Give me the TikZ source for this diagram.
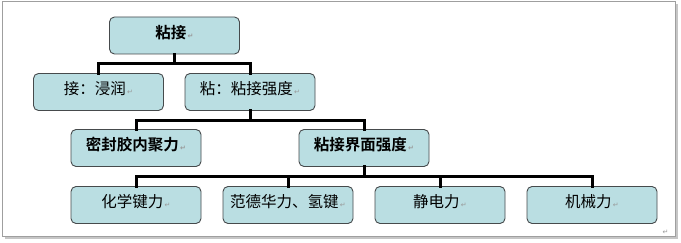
\documentclass[tikz,border=0pt]{standalone}
\usepackage{fontspec}
\newfontfamily\cjk{Noto Sans CJK SC}[BoldFont={Noto Sans CJK SC Bold}]
\newfontfamily\symfont{DejaVu Sans}
\definecolor{boxfill}{RGB}{186,222,226}
\definecolor{boxline}{RGB}{70,74,76}
\newcommand{\pmark}{{\symfont\fontsize{7}{7}\selectfont\color{gray!80}\,↵}}
\begin{document}
\begin{tikzpicture}[
        x=1pt, y=-1pt,
        box/.style={draw=boxline, fill=boxfill, rounded corners=5pt, align=center,
                    font=\cjk\fontsize{15.5}{17}\selectfont, line width=0.9pt,
                    text height=13.5pt, text depth=8pt,
                    minimum height=37pt, minimum width=130pt, inner sep=0pt},
        hd/.style={box, font=\cjk\bfseries\fontsize{15.5}{17}\selectfont},
        conn/.style={line width=3pt, line cap=rect}
    ]
    \useasboundingbox (0,0) rectangle (681,243);
    % frame with shadow
    \fill[gray!45] (5,4) rectangle (678,239);
    \draw[gray!75, fill=white, line width=0.9pt] (2,1) rectangle (675,236);

    \node[hd]  (root) at (174.5,35.5) {粘接\pmark};
    \node[box] (jie)  at (98.5,92)    {接：浸润\pmark};
    \node[box] (zhan) at (250,92)     {粘：粘接强度\pmark};

    \node[hd]  (coh)  at (136,148)    {密封胶内聚力\pmark};
    \node[hd]  (intf) at (364,148)    {粘接界面强度\pmark};

    \node[box] (chem) at (136,205)    {化学键力\pmark};
    \node[box] (vdw)  at (288,205)    {范德华力、氢键\pmark};
    \node[box] (elec) at (440,205)    {静电力\pmark};
    \node[box] (mech) at (592,205)    {机械力\pmark};

    \node[inner sep=0pt] (pend) at (665,232) {\pmark};

    \draw[conn] (root.south) -- ++(0,9) -| (jie.north);
    \draw[conn] (root.south) -- ++(0,9) -| (zhan.north);
    \draw[conn] (zhan.south) -- ++(0,10) -| (coh.north);
    \draw[conn] (zhan.south) -- ++(0,10) -| (intf.north);
    \draw[conn] (intf.south) -- ++(0,10) -| (chem.north);
    \draw[conn] (intf.south) -- ++(0,10) -| (vdw.north);
    \draw[conn] (intf.south) -- ++(0,10) -| (elec.north);
    \draw[conn] (intf.south) -- ++(0,10) -| (mech.north);
\end{tikzpicture}
\end{document}
